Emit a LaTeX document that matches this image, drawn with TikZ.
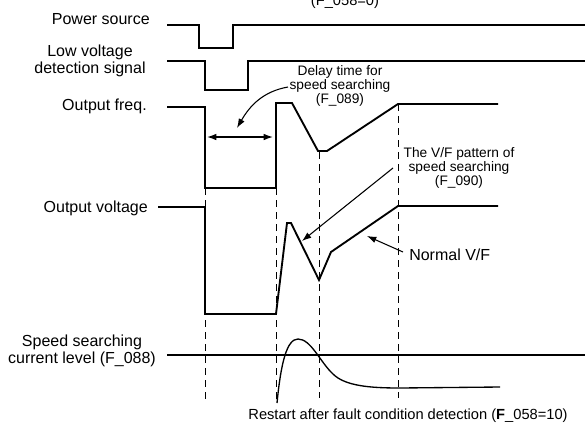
\documentclass[tikz,border=0pt]{standalone}
\usepackage{fontspec}
\setmainfont{Liberation Sans}
\usetikzlibrary{arrows.meta}
\begin{document}
\begin{tikzpicture}[x=0.75pt,y=-0.75pt,
  sig/.style={line width=1.4pt,line join=miter},
  lvl/.style={line width=2pt},
  guide/.style={line width=0.6pt,dash pattern=on 5.5pt off 3.5pt},
  pointer/.style={line width=0.8pt,-{Latex[length=7pt,width=5pt]}},
  biglbl/.style={font=\fontsize{12}{12.5}\selectfont,inner sep=0pt},
  smalllbl/.style={font=\fontsize{10.3}{10.4}\selectfont,inner sep=0pt,align=center},
  notelbl/.style={font=\fontsize{11}{12}\selectfont,inner sep=0pt}]
\useasboundingbox (0,0) rectangle (585,422);
% labels
\node[biglbl,anchor=east] (lps) at (150,19) {Power source};
\node[biglbl,align=center] (llv) at (90,61) {Low voltage\\detection signal};
\node[biglbl,anchor=east] (lof) at (147,106) {Output freq.};
\node[biglbl,anchor=east] (lov) at (148,208) {Output voltage};
\node[biglbl,align=center] (lcl) at (82,351) {Speed searching\\current level (F\_088)};
\node[smalllbl] (ldt) at (340,86) {Delay time for\\speed searching\\(F\_089)};
\node[smalllbl] (lvf) at (459,168) {The V/F pattern of\\speed searching\\(F\_090)};
\node[biglbl,anchor=west] (lnv) at (409,255) {Normal V/F};
\node[notelbl,anchor=base] (lrs) at (408,419) {Restart after fault condition detection (\textbf{F}\_058=10)};
\node[notelbl,anchor=base] (ltop) at (345,5) {(F\_058=0)};
% waveforms
\draw[sig] (167,25) -- (199,25) -- (199,48) -- (233,48) -- (233,25) -- (585,25);
\draw[sig] (167,61) -- (205,61) -- (205,90) -- (248,90) -- (248,61) -- (585,61);
\draw[sig] (167,107) -- (205,107) -- (205,188) -- (276,188) -- (276,103) -- (292,103)
  -- (318,151) -- (327,151) -- (398,104) -- (498,104);
\draw[sig] (158,207) -- (205,207) -- (205,314) -- (276,314) -- (287,223) -- (291,223)
  -- (319,280) -- (331,252) -- (398,206) -- (498,206);
\draw[lvl] (167,355) -- (585,355);
\draw[line width=1pt] (277,403) .. controls (281,362) and (287,339) .. (298,339)
  .. controls (311,339) and (320,362) .. (333,374)
  .. controls (345,386) and (370,388) .. (400,388) -- (500,387);
% guides
\draw[guide] (205,188) -- (205,403);
\draw[guide] (276,188) -- (276,403);
\draw[guide] (319,152) -- (319,398);
\draw[guide] (398,104) -- (398,398);
% arrows
\coordinate (da) at (207,137);
\coordinate (db) at (273,137);
\draw[line width=1pt,{Latex[length=7pt,width=5pt]}-{Latex[length=7pt,width=5pt]}] (da) -- (db);
\coordinate (dts) at (288,87);
\coordinate (dtt) at (237,128);
\draw[pointer] (dts) to[out=190,in=60] (dtt);
\coordinate (vfs) at (393,168);
\coordinate (vft) at (302,241);
\draw[pointer] (vfs) -- (vft);
\coordinate (nvs) at (403,252);
\coordinate (nvt) at (367,236);
\draw[pointer] (nvs) -- (nvt);
\end{tikzpicture}
\end{document}
